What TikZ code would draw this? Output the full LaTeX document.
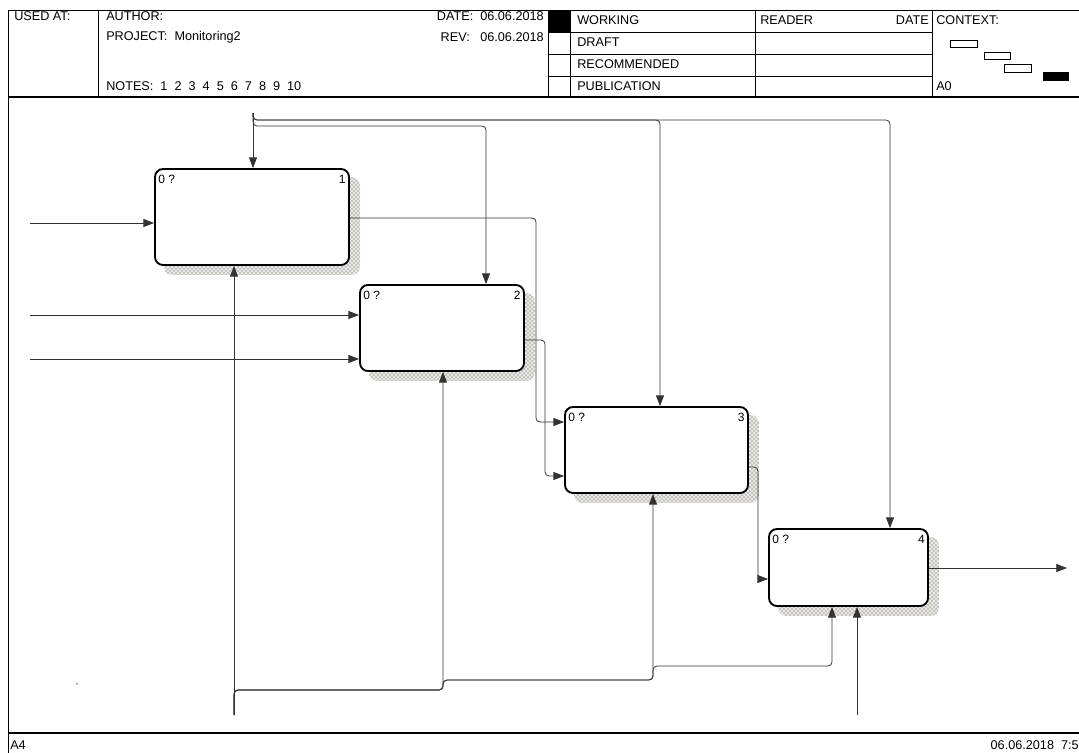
\documentclass[tikz,border=0pt]{standalone}
\usepackage{fontspec}
\setmainfont{Liberation Sans}
\usetikzlibrary{arrows.meta,fit,backgrounds,patterns}

\definecolor{shade}{RGB}{80,70,55}

\begin{document}
\begin{tikzpicture}[x=0.75pt,y=-0.75pt,
  every node/.style={font=\fontsize{9.5}{11}\selectfont,inner sep=0pt},
  fn/.style={draw,line width=1.4pt,rounded corners=6pt,fill=white,inner sep=0pt},
  tag/.style={font=\fontsize{9}{10}\selectfont},
  arr/.style={draw=black!80,line width=0.6pt,-{Triangle[length=8pt,width=6pt]}},
  rc/.style={rounded corners=3pt},
  frm/.style={line width=0.7pt}]

\useasboundingbox (0,0) rectangle (1079,753);

% frame and header
\draw[frm] (8,753) -- (8,10) -- (1079,10);
\draw[line width=1pt] (8,97) -- (1079,97);
\draw[line width=1pt] (8,733) -- (1079,733);
\foreach \x in {98,548,570,755,932}
  \draw[frm] (\x,10) -- (\x,97);
\foreach \y in {32,54,76}
  \draw[frm] (548,\y) -- (932,\y);
\fill (548,10) rectangle (570,32);

\node[anchor=west] (usedat) at (14,16) {USED AT:};
\node[anchor=west] (author) at (106,16) {AUTHOR:};
\node[anchor=west] (project) at (106,37) {PROJECT:\ \ Monitoring2};
\node[anchor=west] (notes) at (106,86) {NOTES:\ \ 1\ \ 2\ \ 3\ \ 4\ \ 5\ \ 6\ \ 7\ \ 8\ \ 9\ \ 10};
\node[anchor=east] (date) at (544,16) {DATE:\ \ 06.06.2018};
\node[anchor=east] (rev) at (544,37) {REV:\ \ \ 06.06.2018};

\node[anchor=west] (working) at (577,20) {WORKING};
\node[anchor=west] (draft) at (577,42) {DRAFT};
\node[anchor=west] (recom) at (577,64) {RECOMMENDED};
\node[anchor=west] (publ) at (577,86) {PUBLICATION};
\node[anchor=west] (reader) at (760,20) {READER};
\node[anchor=east] (rdate) at (929,20) {DATE};
\node[anchor=west] (context) at (936,20) {CONTEXT:};
\node[anchor=west] (a0) at (936,86) {A0};

\draw[frm] (950,40) rectangle (977,47);
\draw[frm] (984,52) rectangle (1010,59);
\draw[frm] (1004,64) rectangle (1031,72);
\fill (1043,72) rectangle (1069,81);

\node[anchor=west] (sheet) at (10,745) {A4};
\node[anchor=east] (stamp) at (1079,745) {06.06.2018\ \ 7:5};
\node[font=\fontsize{6}{6}\selectfont] (dash) at (77,685) {-};

% activity boxes
\node[fn,fit={(155,169) (349,265)}] (b1) {};
\node[fn,fit={(360,285) (524,371)}] (b2) {};
\node[fn,fit={(565,407) (748,493)}] (b3) {};
\node[fn,fit={(769,529) (928,606)}] (b4) {};

\foreach \b/\n in {b1/1,b2/2,b3/3,b4/4} {
  \node[tag,anchor=north west] (\b id) at ([shift={(4,7)}]\b.north west) {0 ?};
  \node[tag,anchor=north east] (\b no) at ([shift={(-4,7)}]\b.north east) {\n};
  \draw[line width=0.8pt] ([shift={(1,6)}]\b.north west) -- ([shift={(6,1)}]\b.north west);
}

\begin{scope}[on background layer]
\foreach \b in {b1,b2,b3,b4} {
  \fill[shade!12,rounded corners=6pt]
    ([shift={(10,9)}]\b.north west) rectangle ([shift={(10,9)}]\b.south east);
  \fill[pattern=crosshatch dots,pattern color=shade,rounded corners=6pt]
    ([shift={(10,9)}]\b.north west) rectangle ([shift={(10,9)}]\b.south east);
}
\end{scope}

% inputs and output
\coordinate (in1) at (30,223);
\coordinate (in2) at (30,315);
\coordinate (in3) at (30,359);
\coordinate (out4) at (1067,568);
\draw[arr] (in1) -- (in1 -| b1.west);
\draw[arr] (in2) -- (in2 -| b2.west);
\draw[arr] (in3) -- (in3 -| b2.west);
\draw[arr] (out4 -| b4.east) -- (out4);

\draw[arr,rc] (b1.east |- 0,218) -- (536,218) -- (536,422) -- (b3.west |- 0,422);
\draw[arr,rc] (b2.east |- 0,340) -- (545,340) -- (545,476) -- (b3.west |- 0,476);
\draw[arr,rc] (b3.east |- 0,467) -- (758,467) -- (758,579) -- (b4.west |- 0,579);

% controls
\coordinate (ctl) at (253,113);
\draw[arr] (ctl) -- (ctl |- b1.north);
\draw[arr,rc] (ctl) -- (253,126) -- (486,126) -- (486,0 |- b2.north);
\draw[arr,rc] (ctl) -- (253,120) -- (660,120) -- (660,0 |- b3.north);
\draw[arr,rc] (ctl) -- (253,120) -- (890,120) -- (890,0 |- b4.north);

% mechanisms
\coordinate (mec) at (234,715);
\coordinate (mec4) at (857,715);
\draw[arr] (mec) -- (mec |- b1.south);
\draw[arr,rc] (mec) -- (234,690) -- (443,690) -- (443,0 |- b2.south);
\draw[arr,rc] (mec) -- (234,690) -- (443,690) -- (443,680) -- (653,680) -- (653,0 |- b3.south);
\draw[arr,rc] (mec) -- (234,690) -- (443,690) -- (443,680) -- (653,680) -- (653,666) -- (832,666) -- (832,0 |- b4.south);
\draw[arr] (mec4) -- (mec4 |- b4.south);

\end{tikzpicture}
\end{document}
